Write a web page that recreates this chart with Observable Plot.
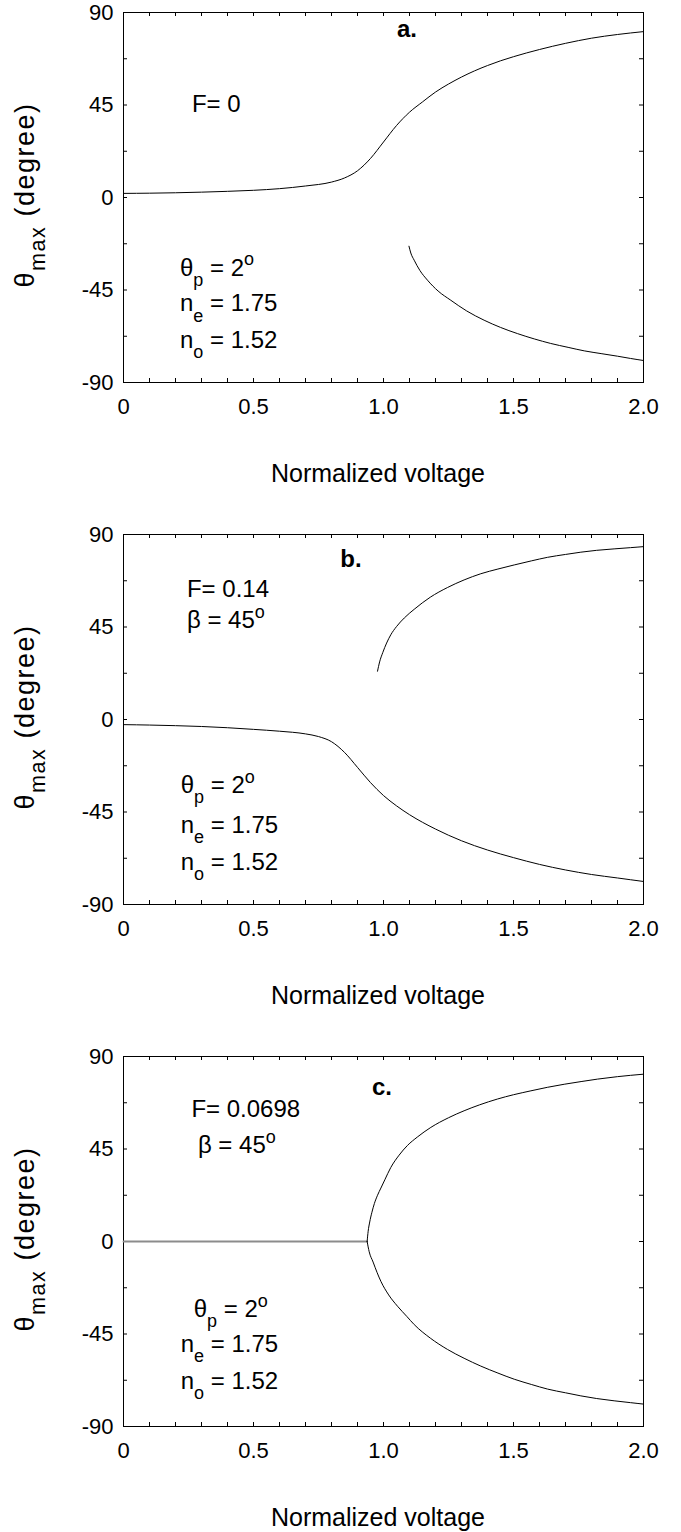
<!DOCTYPE html>
<html><head><meta charset="utf-8">
<script src="https://cdn.jsdelivr.net/npm/d3@7"></script>
<script src="https://cdn.jsdelivr.net/npm/@observablehq/plot@0.6"></script>
<style>
body{margin:0;background:#fff;}
#chart{width:681px;}
#chart svg{display:block;background:#fff;}
</style></head><body><div id="chart"></div>
<script>
// ---- axes ----
const xTicks = [0, 0.5, 1.0, 1.5, 2.0];
const xTickLabels = ["0", "0.5", "1.0", "1.5", "2.0"];
const xMinorTicks = [0, 0.1, 0.2, 0.3, 0.4, 0.5, 0.6, 0.7, 0.8, 0.9, 1.0, 1.1, 1.2, 1.3, 1.4, 1.5, 1.6, 1.7, 1.8, 1.9, 2.0];
const yTicks = [-90, -45, 0, 45, 90];
const yTickLabels = ["-90", "-45", "0", "45", "90"];
const yMinorTicks = [-90, -67.5, -45, -22.5, 0, 22.5, 45, 67.5, 90];
const xTitle = "Normalized voltage";

// ---- panel a (F = 0) ----
const aUpperV = [0, 0.1, 0.2, 0.3, 0.4, 0.5, 0.6, 0.7, 0.8, 0.85, 0.9, 0.95, 1.0, 1.05, 1.1, 1.15, 1.2, 1.25, 1.3, 1.35, 1.4, 1.45, 1.5, 1.6, 1.7, 1.8, 1.9, 2.0];
const aUpperT = [2.0, 2.1, 2.3, 2.6, 3.0, 3.5, 4.3, 5.6, 7.5, 9.5, 13, 19, 27, 35, 41.5, 46.5, 51.3, 55.2, 58.6, 61.6, 64.2, 66.5, 68.5, 72, 75, 77.5, 79.3, 80.7];
const aLowerV = [1.098, 1.105, 1.118, 1.14, 1.169, 1.21, 1.259, 1.32, 1.387, 1.45, 1.515, 1.58, 1.643, 1.71, 1.772, 1.84, 1.9, 1.95, 2.0];
const aLowerT = [-23.7, -27, -30.5, -35.5, -40.2, -45.5, -50, -55.2, -59.7, -63.2, -66.2, -68.8, -71, -72.9, -74.6, -76, -77.2, -78.3, -79.3];

// ---- panel b (F = 0.14) ----
const bUpperV = [0.977, 0.985, 0.997, 1.012, 1.028, 1.05, 1.08, 1.118, 1.18, 1.246, 1.31, 1.374, 1.44, 1.503, 1.57, 1.631, 1.7, 1.759, 1.82, 1.887, 1.95, 2.0];
const bUpperT = [23.5, 28, 32.5, 37.2, 41.2, 45.2, 49.4, 53.6, 59.5, 64.2, 67.9, 70.9, 73.2, 75.2, 77.2, 78.9, 80.3, 81.4, 82.3, 83, 83.6, 84.1];
const bLowerV = [0, 0.1, 0.2, 0.3, 0.4, 0.5, 0.6, 0.7, 0.75, 0.8, 0.85, 0.9, 0.95, 1.0, 1.05, 1.1, 1.2, 1.3, 1.4, 1.5, 1.6, 1.7, 1.8, 1.9, 2.0];
const bLowerT = [-2.5, -2.7, -3.0, -3.4, -4.0, -4.8, -5.7, -7.0, -8.3, -10.8, -16.0, -23.3, -30.7, -37.0, -42.0, -46.3, -53.3, -59.0, -63.5, -67.2, -70.5, -73.2, -75.4, -77.1, -78.8];

// ---- panel c (F = 0.0698) ----
const cZeroV = [0, 0.937];
const cZeroT = [0, 0];
const cUpperV = [0.937, 0.941, 0.947, 0.955, 0.965, 0.977, 0.99, 1.005, 1.028, 1.06, 1.092, 1.13, 1.182, 1.25, 1.31, 1.37, 1.438, 1.5, 1.567, 1.63, 1.695, 1.76, 1.823, 1.9, 2.0];
const cUpperT = [0, 5, 9.5, 14, 18.5, 22.5, 26, 30, 36, 42, 46.7, 50.8, 55.5, 60.2, 63.6, 66.5, 69.3, 71.4, 73.3, 75, 76.5, 77.8, 79, 80.2, 81.4];
const cLowerV = [0.937, 0.945, 0.96, 0.975, 0.99, 1.02, 1.054, 1.09, 1.118, 1.18, 1.246, 1.31, 1.374, 1.44, 1.503, 1.57, 1.631, 1.7, 1.759, 1.82, 1.887, 1.95, 2.0];
const cLowerT = [0, -5, -10, -15, -19.4, -26, -31.5, -36.5, -40.4, -47, -52.5, -56.8, -60.6, -64, -67, -69.6, -71.8, -73.6, -75.1, -76.4, -77.5, -78.4, -79.1];

// ---- annotations ----
const paramLines = [
  [{t: "θ"}, {t: "p", sub: true}, {t: " = 2"}, {t: "o", sup: true}],
  [{t: "n"}, {t: "e", sub: true}, {t: " = 1.75"}],
  [{t: "n"}, {t: "o", sub: true}, {t: " = 1.52"}]
];
const aNotes = [
  {V: 1.092, T: 77.8, anchor: "middle", bold: true, segs: [{t: "a."}]},
  {V: 0.265, T: 41.4, anchor: "start", segs: [{t: "F= 0"}]},
  {V: 0.219, T: -38.2, anchor: "start", segs: paramLines[0]},
  {V: 0.219, T: -55.7, anchor: "start", segs: paramLines[1]},
  {V: 0.219, T: -73.5, anchor: "start", segs: paramLines[2]}
];
const bNotes = [
  {V: 0.877, T: 73.9, anchor: "middle", bold: true, segs: [{t: "b."}]},
  {V: 0.246, T: 59.4, anchor: "start", segs: [{t: "F= 0.14"}]},
  {V: 0.246, T: 44.1, anchor: "start", segs: [{t: "β = 45"}, {t: "o", sup: true}]},
  {V: 0.222, T: -36.0, anchor: "start", segs: paramLines[0]},
  {V: 0.222, T: -55.6, anchor: "start", segs: paramLines[1]},
  {V: 0.222, T: -73.5, anchor: "start", segs: paramLines[2]}
];
const cNotes = [
  {V: 0.996, T: 71.0, anchor: "middle", bold: true, segs: [{t: "c."}]},
  {V: 0.263, T: 60.5, anchor: "start", segs: [{t: "F= 0.0698"}]},
  {V: 0.288, T: 42.8, anchor: "start", segs: [{t: "β = 45"}, {t: "o", sup: true}]},
  {V: 0.272, T: -36.8, anchor: "start", segs: paramLines[0]},
  {V: 0.222, T: -54.2, anchor: "start", segs: paramLines[1]},
  {V: 0.222, T: -72.0, anchor: "start", segs: paramLines[2]}
];

const FONT = "'Liberation Sans', Arial, Helvetica, sans-serif";

function zip(V, T) { return V.map((v, i) => ({V: v, T: T[i]})); }

function addSegs(text, segs, size, subScale) {
  let shift = 0;
  segs.forEach(s => {
    const ts = text.append("tspan").text(s.t);
    let target = 0;
    if (s.sub) { target = size * 0.42; ts.attr("font-size", size * subScale); }
    if (s.sup) { target = -size * 0.42; ts.attr("font-size", size * subScale); }
    ts.attr("dy", target - shift);
    shift = target;
  });
}

function annotations(notes) {
  return (index, scales, values, dims) => {
    const g = d3.create("svg:g").attr("font-family", FONT).attr("fill", "#000");
    notes.forEach(n => {
      const t = g.append("text")
        .attr("x", scales.x(n.V)).attr("y", scales.y(n.T))
        .attr("text-anchor", n.anchor)
        .attr("font-size", 24)
        .attr("font-weight", n.bold ? "bold" : "normal");
      addSegs(t, n.segs, 24, 0.75);
    });
    // y axis title
    const cy = dims.marginTop + 183;
    const yl = g.append("text")
      .attr("transform", `translate(34,${cy}) rotate(-90)`)
      .attr("text-anchor", "middle").attr("font-size", 27)
      .attr("letter-spacing", 1.5);
    addSegs(yl, [{t: "θ"}, {t: "max", sub: true}, {t: " (degree)"}], 27, 0.8);
    // x axis title
    g.append("text")
      .attr("x", dims.marginLeft + (dims.width - dims.marginLeft - dims.marginRight) / 2 - 5)
      .attr("y", dims.marginTop + 470)
      .attr("text-anchor", "middle").attr("font-size", 25)
      .text(xTitle);
    return g.node();
  };
}

function panel(lines, notes, height, zeroLine) {
  const iw = 681 - 123 - 38, ih = 370, tl = 4;
  const marks = [
    Plot.frame({stroke: "#000", strokeWidth: 1}),
    Plot.tickX(xMinorTicks, {x: d => d, insetTop: ih - tl, stroke: "#000"}),
    Plot.tickX(xMinorTicks, {x: d => d, insetBottom: ih - tl, stroke: "#000"}),
    Plot.tickY(yMinorTicks, {y: d => d, insetRight: iw - tl, stroke: "#000"}),
    Plot.tickY(yMinorTicks, {y: d => d, insetLeft: iw - tl, stroke: "#000"}),
    Plot.axisX(xTicks, {anchor: "bottom", tickSize: 0, tickPadding: 16, fontSize: 22, fill: "#000",
      tickFormat: d => xTickLabels[xTicks.indexOf(d)]}),
    Plot.axisY(yTicks, {anchor: "left", tickSize: 0, tickPadding: 10, fontSize: 22, fill: "#000",
      tickFormat: d => yTickLabels[yTicks.indexOf(d)]})
  ];
  if (zeroLine) marks.push(Plot.line(zeroLine, {x: "V", y: "T", stroke: "#8c8c8c", strokeWidth: 1.8}));
  lines.forEach(l => marks.push(Plot.line(l, {x: "V", y: "T", stroke: "#000", strokeWidth: 1, curve: "monotone-x"})));
  marks.push(annotations(notes));
  return Plot.plot({
    width: 681, height,
    marginLeft: 123, marginRight: 38, marginTop: 12, marginBottom: height - 12 - ih,
    x: {domain: [0, 2], label: null},
    y: {domain: [-90, 90], label: null},
    style: {fontFamily: FONT, fontSize: "22px", color: "#000", background: "#fff", overflow: "visible"},
    marks
  });
}

const chart = document.getElementById("chart");
chart.append(panel([zip(aUpperV, aUpperT), zip(aLowerV, aLowerT)], aNotes, 522));
chart.append(panel([zip(bUpperV, bUpperT), zip(bLowerV, bLowerT)], bNotes, 522));
chart.append(panel([zip(cUpperV, cUpperT), zip(cLowerV, cLowerT)], cNotes, 488, zip(cZeroV, cZeroT)));
</script>
</body></html>
